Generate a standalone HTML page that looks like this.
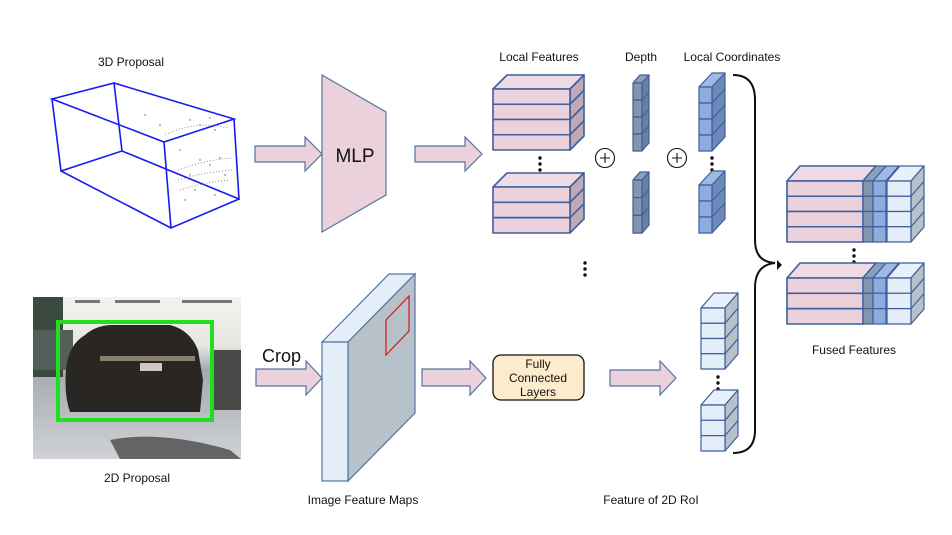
<!DOCTYPE html>
<html><head><meta charset="utf-8"><style>
html,body{margin:0;padding:0;background:#fff;}
svg{display:block;}
text{font-family:"Liberation Sans",sans-serif;fill:#111;}
</style></head><body>
<svg id="s" width="952" height="535" viewBox="0 0 952 535" xmlns="http://www.w3.org/2000/svg">
<defs>
<linearGradient id="road" x1="0" y1="0" x2="0" y2="1">
<stop offset="0" stop-color="#f4f2ee"/><stop offset="0.3" stop-color="#e8e6e2"/><stop offset="0.45" stop-color="#a4aab0"/><stop offset="1" stop-color="#d0d2d5"/></linearGradient>
</defs>
<text x="131" y="66" font-size="12" text-anchor="middle">3D Proposal</text>
<text x="539" y="61" font-size="12" text-anchor="middle">Local Features</text>
<text x="641" y="61" font-size="12" text-anchor="middle">Depth</text>
<text x="732" y="61" font-size="12" text-anchor="middle">Local Coordinates</text>
<text x="854" y="354" font-size="12" text-anchor="middle">Fused Features</text>
<text x="137" y="482" font-size="12" text-anchor="middle">2D Proposal</text>
<text x="363" y="504" font-size="12" text-anchor="middle">Image Feature Maps</text>
<text x="651" y="504" font-size="12" text-anchor="middle">Feature of 2D RoI</text>

<g stroke="#1a1af0" stroke-width="1.6" fill="none">
<path d="M52,99 L114,83 L234,119 L164,142 Z M52,99 L61,171 L122,151 L114,83 M122,151 L239,199 L234,119 M164,142 L171,228 L239,199 M61,171 L171,228"/>
</g>
<g fill="#555">
<circle cx="190" cy="120" r="0.7"/><circle cx="200" cy="125" r="0.7"/><circle cx="210" cy="118" r="0.7"/><circle cx="215" cy="130" r="0.7"/><circle cx="180" cy="150" r="0.7"/><circle cx="200" cy="160" r="0.7"/><circle cx="210" cy="165" r="0.7"/><circle cx="220" cy="158" r="0.7"/><circle cx="190" cy="175" r="0.7"/><circle cx="205" cy="185" r="0.7"/><circle cx="225" cy="175" r="0.7"/><circle cx="160" cy="125" r="0.7"/><circle cx="145" cy="115" r="0.7"/><circle cx="195" cy="190" r="0.7"/><circle cx="215" cy="195" r="0.7"/><circle cx="185" cy="200" r="0.7"/>
</g>
<path d="M165,135 Q195,120 228,128 M178,170 Q205,160 232,158 M178,180 Q205,172 232,170 M180,190 Q205,182 230,180" stroke="#777" stroke-width="0.8" stroke-dasharray="1,2" fill="none"/>

<rect x="33" y="297" width="208" height="162" fill="url(#road)"/>
<rect x="33" y="297" width="30" height="80" fill="#3a4a40"/>
<rect x="33" y="330" width="40" height="40" fill="#52605a"/>
<rect x="212" y="350" width="29" height="60" fill="#4a4a48"/>
<rect x="75" y="300" width="25" height="3" fill="#777"/><rect x="115" y="300" width="45" height="3" fill="#777"/><rect x="182" y="300" width="50" height="3" fill="#777"/>
<path d="M66,370 Q68,345 85,335 Q95,326 110,325 L170,325 Q190,330 198,350 L203,380 L200,412 L70,412 Q64,395 66,370 Z" fill="#2a2624"/>
<rect x="100" y="356" width="95" height="5" fill="#8a8070"/>
<rect x="140" y="363" width="22" height="8" fill="#cfc8c0"/>
<path d="M110,440 Q160,430 230,450 L241,459 L120,459 Z" fill="#3a3838" opacity="0.7"/>
<rect x="58" y="322" width="154" height="98" fill="none" stroke="#1fe01f" stroke-width="4"/>

<g fill="#ead1dc" stroke="#52749e" stroke-width="1.2">
<path d="M255,146 L305,146 L305,137 L322,154 L305,171 L305,162 L255,162 Z"/>
<path d="M415,146 L465,146 L465,137 L482,154 L465,171 L465,162 L415,162 Z"/>
<path d="M256,369 L306,369 L306,361 L322,378 L306,395 L306,386 L256,386 Z"/>
<path d="M422,369 L470,369 L470,361 L486,378 L470,395 L470,386 L422,386 Z"/>
<path d="M610,370 L660,370 L660,361 L676,378 L660,395 L660,386 L610,386 Z"/>
</g>
<path d="M777,260 L782,265 L777,270 Z" fill="#111"/>

<path d="M322,75 L386,112 L386,195 L322,232 Z" fill="#ead1dc" stroke="#52749e" stroke-width="1.2"/>
<text x="355" y="162" font-size="19" text-anchor="middle">MLP</text>

<text x="262" y="362" font-size="18">Crop</text>

<g stroke="#52749e" stroke-width="1.2">
<path d="M322,342 L389,274 L415,274 L348,342 Z" fill="#e4eef9"/>
<path d="M348,342 L415,274 L415,413 L348,481 Z" fill="#b7c1ca"/>
<rect x="322" y="342" width="26" height="139" fill="#e4eef9"/>
</g>
<path d="M386,320 L409,296 L409,331 L386,355 Z" fill="none" stroke="#d21818" stroke-width="1.2"/>

<rect x="493" y="355" width="91" height="45" rx="8" fill="#fdeccb" stroke="#111" stroke-width="1.3"/>
<text x="538" y="368" font-size="12" text-anchor="middle">Fully</text>
<text x="538" y="382" font-size="12" text-anchor="middle">Connected</text>
<text x="538" y="396" font-size="12" text-anchor="middle">Layers</text>

<g stroke="#111" stroke-width="1.1" fill="#fff">
<circle cx="605" cy="158" r="9.5"/><circle cx="677" cy="158" r="9.5"/>
<path d="M600,158 L610,158 M605,153 L605,163 M672,158 L682,158 M677,153 L677,163"/>
</g>

<g fill="#111">
<circle cx="540" cy="158" r="1.7"/><circle cx="540" cy="164" r="1.7"/><circle cx="540" cy="170" r="1.7"/>
<circle cx="712" cy="158" r="1.7"/><circle cx="712" cy="164" r="1.7"/><circle cx="712" cy="170" r="1.7"/>
<circle cx="585" cy="263" r="1.7"/><circle cx="585" cy="269" r="1.7"/><circle cx="585" cy="275" r="1.7"/>
<circle cx="718" cy="377" r="1.7"/><circle cx="718" cy="383" r="1.7"/><circle cx="718" cy="389" r="1.7"/>
<circle cx="854" cy="250" r="1.7"/><circle cx="854" cy="256" r="1.7"/><circle cx="854" cy="262" r="1.7"/>
</g>

<path d="M733,75 Q755,75 755,100 L755,240 Q755,262 775,263 Q755,265 755,288 L755,430 Q755,453 733,453" fill="none" stroke="#111" stroke-width="2"/>

<g id="stacks"></g>
</svg>
<script>
var g=document.getElementById('stacks'),NS='http://www.w3.org/2000/svg';
function poly(pts,fill,sw){var p=document.createElementNS(NS,'polygon');p.setAttribute('points',pts.map(function(a){return a.join(',')}).join(' '));p.setAttribute('fill',fill);p.setAttribute('stroke','#3d5f9b');p.setAttribute('stroke-width',sw||1.2);p.setAttribute('stroke-linejoin','round');g.appendChild(p);}
function stack(x,y,w,h,n,dx,dy,front,top,side,sw){
 var H=h*n;
 poly([[x,y],[x+dx,y-dy],[x+w+dx,y-dy],[x+w,y]],top,sw);
 poly([[x+w,y],[x+w+dx,y-dy],[x+w+dx,y+H-dy],[x+w,y+H]],side,sw);
 for(var i=0;i<n;i++){poly([[x,y+i*h],[x+w,y+i*h],[x+w,y+(i+1)*h],[x,y+(i+1)*h]],front,sw);
  if(i>0)poly([[x+w,y+i*h],[x+w+dx,y+i*h-dy]],'none',sw);}
}
var pink='#ead1dc',ptop='#efdbe4',pside='#c1a9b3';
stack(493,89,77,15.25,4,14,14,pink,ptop,pside,1.6);
stack(493,187,77,15.33,3,14,14,pink,ptop,pside,1.6);
var dk='#8496ae',dtop='#8da0b9',dside='#6b7fa0';
stack(633,83,9,17,4,7,8,dk,dtop,dside);
stack(633,180,9,17.7,3,7,8,dk,dtop,dside);
var bl='#8eacdf',btop='#9fb9e4',bside='#6e88b9';
stack(699,87,13,16,4,13,14,bl,btop,bside);
stack(699,185,13,16,3,13,14,bl,btop,bside);
var lb='#e4eef9',lbtop='#e8f1fb',lbside='#b7c1ca';
stack(701,308,24,15.25,4,13,15,lb,lbtop,lbside);
stack(701,405,24,15.33,3,13,15,lb,lbtop,lbside);
function fused(y,n,h){
 stack(787,y,76,h,n,13,15,pink,ptop,pside,1.6);
 stack(863,y,10,h,n,13,15,dk,dtop,dside);
 stack(873,y,13,h,n,13,15,bl,btop,bside);
 stack(887,y,24,h,n,13,15,lb,lbtop,lbside);
}
fused(181,4,15.25);
fused(278,3,15.33);
</script>
</body></html>
